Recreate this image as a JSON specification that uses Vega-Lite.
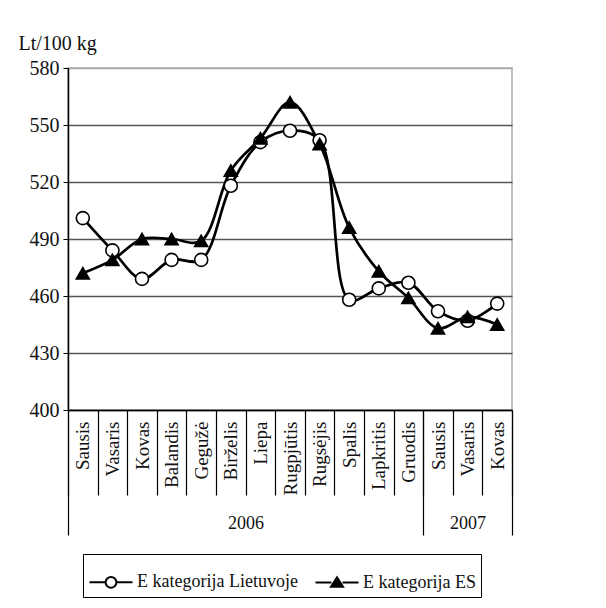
{
  "$schema": "https://vega.github.io/schema/vega-lite/v6.json",
  "width": 444,
  "height": 342,
  "autosize": "none",
  "padding": {"left": 68, "top": 68, "right": 94, "bottom": 198},
  "background": "white",
  "config": {
    "font": "Liberation Serif",
    "view": {"stroke": "#aaaaaa", "strokeWidth": 1.5},
    "axis": {"labelFont": "Liberation Serif", "titleFont": "Liberation Serif", "labelColor": "#111", "titleColor": "#111"},
    "legend": {"labelFont": "Liberation Serif"},
    "text": {"font": "Liberation Serif"}
  },
  "datasets": {
    "pts": [
      {"k": "2006|Sausis", "series": "E kategorija Lietuvoje", "v": 501},
      {"k": "2006|Vasaris", "series": "E kategorija Lietuvoje", "v": 484},
      {"k": "2006|Kovas", "series": "E kategorija Lietuvoje", "v": 469},
      {"k": "2006|Balandis", "series": "E kategorija Lietuvoje", "v": 479},
      {"k": "2006|Gegužė", "series": "E kategorija Lietuvoje", "v": 479},
      {"k": "2006|Birželis", "series": "E kategorija Lietuvoje", "v": 518},
      {"k": "2006|Liepa", "series": "E kategorija Lietuvoje", "v": 541},
      {"k": "2006|Rugpjūtis", "series": "E kategorija Lietuvoje", "v": 547},
      {"k": "2006|Rugsėjis", "series": "E kategorija Lietuvoje", "v": 542},
      {"k": "2006|Spalis", "series": "E kategorija Lietuvoje", "v": 458},
      {"k": "2006|Lapkritis", "series": "E kategorija Lietuvoje", "v": 464},
      {"k": "2006|Gruodis", "series": "E kategorija Lietuvoje", "v": 467},
      {"k": "2007|Sausis", "series": "E kategorija Lietuvoje", "v": 452},
      {"k": "2007|Vasaris", "series": "E kategorija Lietuvoje", "v": 447},
      {"k": "2007|Kovas", "series": "E kategorija Lietuvoje", "v": 456},
      {"k": "2006|Sausis", "series": "E kategorija ES", "v": 472},
      {"k": "2006|Vasaris", "series": "E kategorija ES", "v": 479},
      {"k": "2006|Kovas", "series": "E kategorija ES", "v": 490},
      {"k": "2006|Balandis", "series": "E kategorija ES", "v": 490},
      {"k": "2006|Gegužė", "series": "E kategorija ES", "v": 489},
      {"k": "2006|Birželis", "series": "E kategorija ES", "v": 526},
      {"k": "2006|Liepa", "series": "E kategorija ES", "v": 543},
      {"k": "2006|Rugpjūtis", "series": "E kategorija ES", "v": 562},
      {"k": "2006|Rugsėjis", "series": "E kategorija ES", "v": 540},
      {"k": "2006|Spalis", "series": "E kategorija ES", "v": 496},
      {"k": "2006|Lapkritis", "series": "E kategorija ES", "v": 473},
      {"k": "2006|Gruodis", "series": "E kategorija ES", "v": 459},
      {"k": "2007|Sausis", "series": "E kategorija ES", "v": 443},
      {"k": "2007|Vasaris", "series": "E kategorija ES", "v": 449},
      {"k": "2007|Kovas", "series": "E kategorija ES", "v": 445}
    ],
    "years": [
      {"year": "2006", "start": 0, "end": 12},
      {"year": "2007", "start": 12, "end": 15}
    ]
  },
  "resolve": {"scale": {"x": "independent"}, "axis": {"x": "independent"}},
  "layer": [
    {
      "data": {"name": "pts"},
      "transform": [{"calculate": "datum.series", "as": "marker"}],
      "layer": [
        {
          "mark": {"type": "line", "interpolate": "catmull-rom", "color": "black", "strokeWidth": 2.7},
          "encoding": {
            "x": {
              "field": "k", "type": "nominal", "sort": null,
              "scale": {"paddingInner": 0, "paddingOuter": 0, "type": "band"},
              "axis": {
                "orient": "bottom", "title": null, "labelExpr": "split(datum.value,'|')[1]",
                "labelAngle": -90, "labelAlign": "right", "labelBaseline": "middle",
                "labelFont": "Liberation Serif",
                "labelFontSize": 19, "labelPadding": -74, "tickBand": "extent",
                "tickSize": 85, "tickColor": "black", "tickWidth": 1.2,
                "domainColor": "black", "domainWidth": 1.5, "grid": false
              }
            },
            "y": {
              "field": "v", "type": "quantitative",
              "scale": {"domain": [400, 580], "nice": false, "zero": false},
              "axis": {
                "values": [400, 430, 460, 490, 520, 550, 580],
                "title": "Lt/100 kg", "titleAngle": 0, "titleAlign": "left", "titleBaseline": "alphabetic",
                "titleFont": "Liberation Serif", "labelFont": "Liberation Serif",
                "titleX": -50, "titleY": -19, "titleFontSize": 20, "titleFontWeight": "normal",
                "labelFontSize": 20, "labelPadding": 4, "tickSize": 5, "tickColor": "black",
                "domainColor": "black", "domainWidth": 1.5,
                "gridColor": {"condition": {"test": "datum.value == 580", "value": "#aaaaaa"}, "value": "#555555"},
                "gridWidth": 1.6
              }
            },
            "detail": {"field": "series"}
          }
        },
        {
          "mark": {"type": "point", "filled": true, "strokeWidth": 1.6, "opacity": 1},
          "encoding": {
            "x": {"field": "k", "type": "nominal", "sort": null},
            "y": {"field": "v", "type": "quantitative"},
            "shape": {
              "field": "marker", "type": "nominal", "sort": null,
              "scale": {"range": ["circle", "triangle-up"]},
              "legend": null
            },
            "fill": {
              "field": "series", "type": "nominal", "sort": null,
              "scale": {"domain": ["E kategorija Lietuvoje", "E kategorija ES"], "range": ["white", "black"]},
              "legend": {
                "title": null, "orient": "none", "legendX": 15, "legendY": 486, "direction": "horizontal",
                "strokeColor": "black", "fillColor": "white", "padding": 5,
                "labelFont": "Liberation Serif", "labelLimit": 0,
                "labelFontSize": 18, "labelColor": "#111", "columnPadding": 13, "labelOffset": 3,
                "symbolSize": 1850, "symbolStrokeWidth": 2, "symbolStrokeColor": "black",
                "symbolType": {"expr": "datum.value == 'E kategorija ES' ? 'M-1,0H-0.26M0.26,0H1M0,-0.24L0.28,0.2L-0.28,0.2Z' : 'M-1,0H-0.25M0.25,0H1M0.25,0A0.25,0.25 0 1,1 -0.25,0A0.25,0.25 0 1,1 0.25,0Z'"}
              }
            },
            "stroke": {"value": "black"},
            "size": {"value": 170}
          }
        }
      ]
    },
    {
      "data": {"name": "years"},
      "mark": {"type": "point", "opacity": 0},
      "encoding": {
        "x": {
          "field": "end", "type": "quantitative",
          "scale": {"domain": [0, 15], "nice": false, "zero": false},
          "axis": {
            "orient": "bottom", "title": null, "values": [0, 6, 12, 13.5, 15],
            "labelExpr": "datum.value == 6 ? '2006' : datum.value == 13.5 ? '2007' : ''",
            "labelFont": "Liberation Serif",
            "tickSize": 125, "tickWidth": 1.2,
            "tickColor": {"condition": {"test": "datum.value == 6 || datum.value == 13.5", "value": "transparent"}, "value": "black"},
            "labelFontSize": 18, "labelPadding": -21, "labelFlush": false, "labelOverlap": false,
            "domain": false, "grid": false
          }
        }
      }
    }
  ]
}
